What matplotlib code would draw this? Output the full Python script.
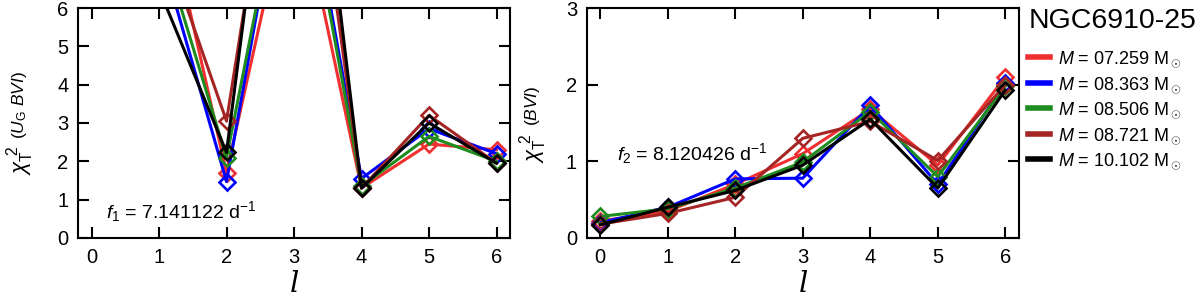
import matplotlib
matplotlib.use("Agg")
import matplotlib.pyplot as plt
from matplotlib.lines import Line2D

plt.rcParams['font.family'] = ['Liberation Sans', 'DejaVu Sans']
plt.rcParams['mathtext.fontset'] = 'custom'
plt.rcParams['mathtext.rm'] = 'Liberation Sans'
plt.rcParams['mathtext.it'] = 'Liberation Sans:italic'

# degree l
l = [0, 1, 2, 3, 4, 5, 6]

labels = ['$M$ = 07.259 M$_\\odot$', '$M$ = 08.363 M$_\\odot$',
          '$M$ = 08.506 M$_\\odot$', '$M$ = 08.721 M$_\\odot$',
          '$M$ = 10.102 M$_\\odot$']
colors = ['#f03030', '#0000ff', '#1e8c1e', '#a52525', '#000000']

# chi^2 (U_G BVI), f1 -- values above 6 are off the plot
chi_f1_red = [12.0, 9.5, 1.7, 9.6, 1.30, 2.45, 2.30]
chi_f1_blue = [11.0, 7.6, 1.47, 11.3, 1.55, 2.85, 2.20]
chi_f1_green = [11.5, 7.9, 2.09, 11.0, 1.35, 2.65, 2.00]
chi_f1_brown = [12.5, 8.1, 3.05, 14.2, 1.30, 3.20, 1.95]
chi_f1_black = [10.0, 6.5, 2.23, 16.0, 1.30, 3.00, 1.95]

# chi^2 (BVI), f2
chi_f2_red = [0.22, 0.35, 0.70, 1.10, 1.68, 0.95, 2.10]
chi_f2_blue = [0.20, 0.40, 0.77, 0.78, 1.73, 0.70, 2.02]
chi_f2_green = [0.28, 0.38, 0.65, 0.99, 1.65, 0.80, 1.98]
chi_f2_brown = [0.18, 0.32, 0.53, 1.30, 1.52, 1.01, 2.00]
chi_f2_black = [0.17, 0.40, 0.62, 0.95, 1.55, 0.65, 1.93]

f1_data = [chi_f1_red, chi_f1_blue, chi_f1_green, chi_f1_brown, chi_f1_black]
f2_data = [chi_f2_red, chi_f2_blue, chi_f2_green, chi_f2_brown, chi_f2_black]

fig = plt.figure(figsize=(12, 3), dpi=100)
ax1 = fig.add_axes([0.065, 0.207, 0.36, 0.766])
ax2 = fig.add_axes([0.489, 0.207, 0.36, 0.766])


def style_axis(ax, ymax):
    ax.set_xlim(-0.2, 6.2)
    ax.set_ylim(0, ymax)
    ax.set_xticks(l)
    ax.tick_params(direction='in', top=True, right=True, length=8, width=1.5,
                   labelsize=14.5, pad=7)
    for s in ax.spines.values():
        s.set_linewidth(1.5)
    ax.set_xlabel('$l$', fontsize=21, family='Liberation Serif',
                  math_fontfamily='dejavuserif', labelpad=4)


for ax, data in [(ax1, f1_data), (ax2, f2_data)]:
    for vals, c in zip(data, colors):
        ax.plot(l, vals, color=c, lw=2.2, marker='D', ms=8, mfc='none',
                mec=c, mew=1.9)

style_axis(ax1, 6)
ax1.set_yticks([0, 1, 2, 3, 4, 5, 6])
style_axis(ax2, 3)
ax2.set_yticks([0, 1, 2, 3])

# y labels in two pieces (second one smaller)
ax1.text(-0.135, 0.272, '$\\chi_{\\rm T}^{\\ 2}$', transform=ax1.transAxes,
         rotation=90, rotation_mode='anchor', ha='left', va='center',
         fontsize=16)
ax1.text(-0.135, 0.43, '($U_{\\rm G}$ $BVI$)', transform=ax1.transAxes,
         rotation=90, rotation_mode='anchor', ha='left', va='center',
         fontsize=12.5)
ax2.text(-0.125, 0.326, '$\\chi_{\\rm T}^{\\ 2}$', transform=ax2.transAxes,
         rotation=90, rotation_mode='anchor', ha='left', va='center',
         fontsize=16)
ax2.text(-0.125, 0.485, '($BVI$)', transform=ax2.transAxes,
         rotation=90, rotation_mode='anchor', ha='left', va='center',
         fontsize=12.5)

ax1.text(0.22, 0.68, '$f_1$ = 7.141122 d$^{-1}$', fontsize=14, va='center')
ax2.text(0.25, 1.1, '$f_2$ = 8.120426 d$^{-1}$', fontsize=14, va='center')

fig.text(0.857, 0.973, 'NGC6910-25', fontsize=20.5, va='top', ha='left')
handles = [Line2D([], [], color=c, lw=4) for c in colors]
fig.legend(handles, labels, loc='upper left', bbox_to_anchor=(0.857, 0.835),
           frameon=False, fontsize=13, handlelength=1.2, handletextpad=0.45,
           labelspacing=0.3, borderpad=0, borderaxespad=0)

fig.savefig('out.png', dpi=100)
